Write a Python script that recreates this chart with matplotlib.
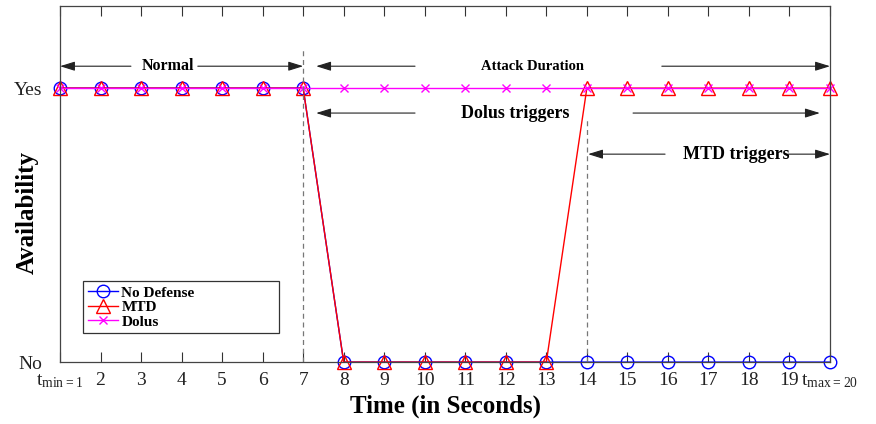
import matplotlib
matplotlib.use("Agg")
import matplotlib.pyplot as plt
import numpy as np

plt.rcParams['font.family'] = ['Liberation Serif', 'DejaVu Serif']
plt.rcParams['mathtext.fontset'] = 'custom'
plt.rcParams['mathtext.rm'] = 'Liberation Serif'

# Availability over time (1 = Yes, 0 = No)
time = np.arange(1, 21)
no_defense = [1, 1, 1, 1, 1, 1, 1, 0, 0, 0, 0, 0, 0, 0, 0, 0, 0, 0, 0, 0]
mtd = [1, 1, 1, 1, 1, 1, 1, 0, 0, 0, 0, 0, 0, 1, 1, 1, 1, 1, 1, 1]
dolus = [1] * 20

xtick_labels = [r'$\mathrm{t_{min{=}1}}$'] + [str(t) for t in range(2, 20)] + [r'$\mathrm{t_{max{=}20}}$']
ytick_labels = ['No', 'Yes']

attack_start = 7
mtd_start = 14

fig = plt.figure(figsize=(8.76, 4.24), dpi=100)
ax = fig.add_axes([0.0685, 0.146, 0.879, 0.840])

ax.plot(time, no_defense, color='#0000ff', lw=1.0, marker='o', ms=9,
        mfc='none', mew=1.0, label='No Defense')
ax.plot(time, mtd, color='#ff0000', lw=1.0, marker='^', ms=9.5,
        mfc='none', mew=1.0, label='MTD')
ax.plot(time, dolus, color='#ff00ff', lw=1.0, marker='x', ms=6,
        mew=1.0, label='Dolus')

# markers sit on the bottom edge, let them overflow the frame
for ln in ax.lines:
    ln.set_clip_on(False)

ax.set_xlim(1, 20)
ax.set_ylim(0, 1.30)
ax.set_xticks(time)
ax.set_xticklabels(xtick_labels, fontsize=14, color='#222222')
ax.set_yticks([0, 1])
ax.set_yticklabels(ytick_labels, fontsize=14, color='#222222')
ax.tick_params(axis='x', direction='in', length=7, width=0.8, color='#333333',
               top=True, pad=7)
ax.tick_params(axis='y', length=0, pad=13)
for s in ax.spines.values():
    s.set_color('#444444')
    s.set_linewidth(0.9)

ax.set_xlabel('Time (in Seconds)', fontsize=18, fontweight='bold', labelpad=4)
ax.set_ylabel('Availability', fontsize=18, fontweight='bold')
ax.yaxis.set_label_coords(-0.027, 0.42)

# phase boundaries
ax.plot([attack_start, attack_start], [0, 1.15], ls=(0, (4, 3)), color='#777777', lw=0.9)
ax.plot([mtd_start, mtd_start], [0, 0.89], ls=(0, (4, 3)), color='#777777', lw=0.9)


def arrow(x0, x1, y):
    ax.annotate('', xy=(x1, y), xytext=(x0, y),
                arrowprops=dict(arrowstyle='-|>,head_length=0.9,head_width=0.28',
                                color='#222222', lw=0.8,
                                shrinkA=0, shrinkB=0))


# Normal
arrow(2.75, 1.0, 1.08)
arrow(4.4, 7.0, 1.08)
ax.text(3.67, 1.08, 'Normal', ha='center', va='center', fontsize=11.5, fontweight='bold')

# Attack Duration
arrow(9.76, 7.32, 1.08)
arrow(15.85, 20.0, 1.08)
ax.text(12.67, 1.08, 'Attack Duration', ha='center', va='center', fontsize=10.5, fontweight='bold')

# Dolus triggers
arrow(9.76, 7.32, 0.909)
arrow(15.14, 19.75, 0.909)
ax.text(12.23, 0.909, 'Dolus triggers', ha='center', va='center', fontsize=13, fontweight='bold')

# MTD triggers
arrow(15.93, 14.03, 0.759)
arrow(18.97, 20.0, 0.759)
ax.text(17.68, 0.759, 'MTD triggers', ha='center', va='center', fontsize=13, fontweight='bold')

leg = ax.legend(loc='lower left', bbox_to_anchor=(0.030, 0.081, 0.2545, 0.163),
                mode='expand', borderaxespad=0,
                prop={'weight': 'bold', 'size': 11}, fancybox=False, framealpha=1,
                edgecolor='#333333', handlelength=2.0, handletextpad=0.2,
                labelspacing=0.05, borderpad=0.3)
leg.get_frame().set_linewidth(0.9)

fig.savefig('out.png', dpi=100)
